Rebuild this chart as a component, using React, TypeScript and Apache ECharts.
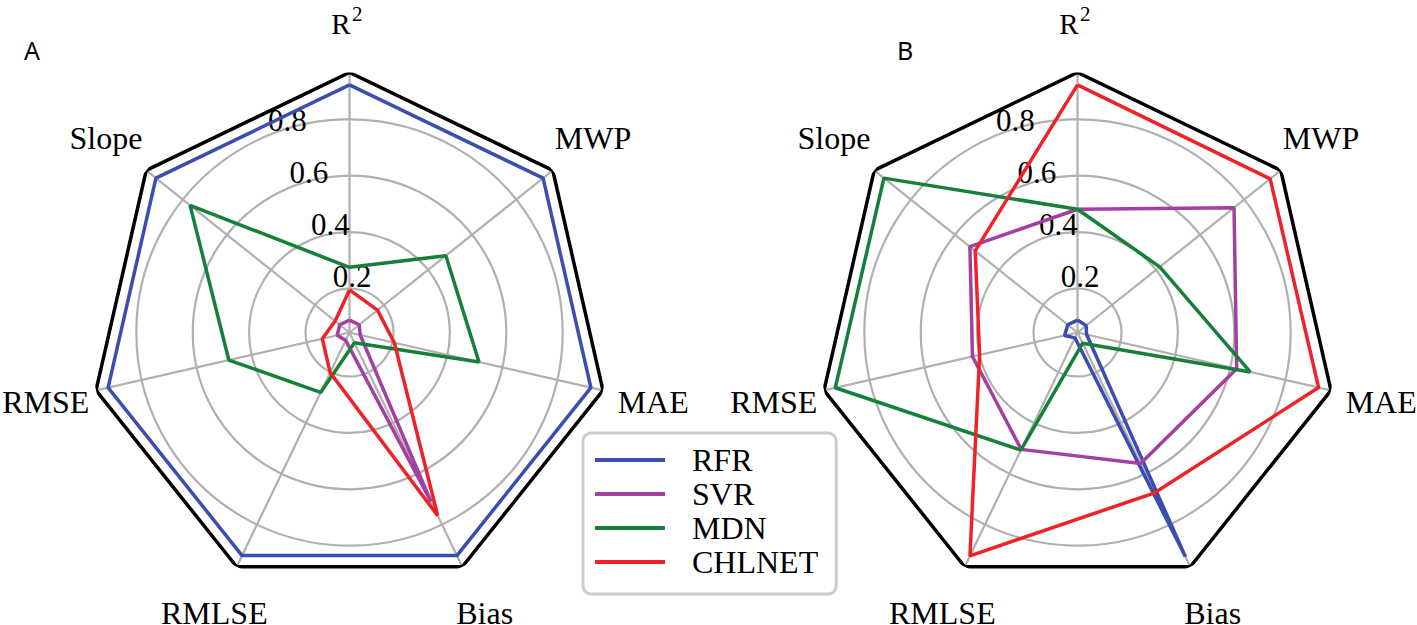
import React, { useEffect, useRef } from 'react';
import * as echarts from 'echarts';

// ---------------- data ----------------
const indicators = ['R²', 'MWP', 'MAE', 'Bias', 'RMLSE', 'RMSE', 'Slope'];
const models = ['RFR', 'SVR', 'MDN', 'CHLNET'];
const modelColors = ['#3B4DAE', '#A23FA0', '#16803B', '#EE2227'];

// Panel A (order: R², MWP, MAE, Bias, RMLSE, RMSE, Slope)
const rfrA = [0.922, 0.922, 0.922, 0.922, 0.922, 0.922, 0.922];
const svrA = [0.088, 0.088, 0.083, 0.709, 0.075, 0.089, 0.088];
const mdnA = [0.275, 0.481, 0.515, 0.084, 0.28, 0.483, 0.767];
const chlnetA = [0.195, 0.171, 0.207, 0.765, 0.202, 0.143, 0.109];

// Panel B
const rfrB = [0.088, 0.083, 0.077, 0.926, 0.065, 0.091, 0.088];
const svrB = [0.481, 0.754, 0.623, 0.56, 0.504, 0.426, 0.532];
const mdnB = [0.481, 0.417, 0.672, 0.086, 0.507, 0.925, 0.922];
const chlnetB = [0.922, 0.918, 0.921, 0.675, 0.923, 0.4, 0.508];

const radialTickLabels = ['0.2', '0.4', '0.6', '0.8'];
const radiusMin = 0.044;
const radiusMax = 0.966;
const outerTick = 0.8;
const panelTags = ['A', 'B'];

// ---------------- layout ----------------
const R = 260;
const CY = 332.5;
const centersX = [349.5, 1077.5];
const labelRadius = 311.5;
const SERIF = '"Liberation Serif", "Times New Roman", serif';
const step = 360 / indicators.length;
// pixel radius of the polar that carries the circles (its max is the outer tick)
const circleR = (R * (outerTick - radiusMin)) / (radiusMax - radiusMin);

const panelData = [
  [rfrA, svrA, mdnA, chlnetA],
  [rfrB, svrB, mdnB, chlnetB],
];

function closed(values: number[]) {
  const pts = values.map((v, i) => [v, i * step]);
  pts.push([values[0], 360]);
  return pts;
}

function buildOption() {
  const polar: any[] = [];
  const angleAxis: any[] = [];
  const radiusAxis: any[] = [];
  const series: any[] = [];
  const graphic: any[] = [];

  centersX.forEach((cx, p) => {
    const dataIdx = p * 2;
    const circIdx = p * 2 + 1;
    polar.push({ center: [cx, CY], radius: R });
    polar.push({ center: [cx, CY], radius: circleR });

    angleAxis.push({
      polarIndex: dataIdx,
      type: 'value',
      min: 0,
      max: 360,
      interval: step,
      startAngle: 90,
      clockwise: true,
      axisLine: { show: false },
      axisTick: { show: false },
      axisLabel: { show: false },
      splitLine: { show: true, lineStyle: { color: '#b0b0b0', width: 2.2 } },
    });
    angleAxis.push({
      polarIndex: circIdx,
      type: 'value',
      min: 0,
      max: 360,
      startAngle: 112.5,
      axisLine: { show: false },
      axisTick: { show: false },
      axisLabel: { show: false },
      splitLine: { show: false },
    });

    radiusAxis.push({
      polarIndex: dataIdx,
      type: 'value',
      min: radiusMin,
      max: radiusMax,
      axisLine: { show: false },
      axisTick: { show: false },
      axisLabel: { show: false },
      splitLine: { show: false },
    });
    radiusAxis.push({
      polarIndex: circIdx,
      type: 'value',
      min: radiusMin,
      max: outerTick,
      z: 0,
      axisLine: { show: false },
      axisTick: { show: false },
      splitLine: { show: true, lineStyle: { color: '#b0b0b0', width: 2.2 } },
      axisLabel: {
        show: true,
        showMinLabel: false,
        showMaxLabel: true,
        margin: 0,
        align: 'left',
        verticalAlign: 'bottom',
        fontFamily: SERIF,
        fontSize: 31,
        color: '#000',
        formatter: (v: number) => {
          const s = String(Math.round(v * 10) / 10);
          return radialTickLabels.includes(s) && Math.abs(v - Number(s)) < 1e-6 ? s : '';
        },
      },
    });

    // outer frame
    series.push({
      type: 'line',
      coordinateSystem: 'polar',
      polarIndex: dataIdx,
      name: 'frame',
      symbol: 'none',
      silent: true,
      z: 3,
      lineStyle: { color: '#000', width: 3.5 },
      data: closed(indicators.map(() => radiusMax)),
    });

    panelData[p].forEach((vals, m) => {
      series.push({
        type: 'line',
        coordinateSystem: 'polar',
        polarIndex: dataIdx,
        name: models[m],
        symbol: 'none',
        z: 4 + m,
        color: modelColors[m],
        itemStyle: { color: modelColors[m] },
        lineStyle: { color: modelColors[m], width: 3.5 },
        data: closed(vals),
      });
    });

    // category names around the polygon
    indicators.forEach((name, i) => {
      const a = ((90 - i * step) * Math.PI) / 180;
      const x = cx + labelRadius * Math.cos(a);
      const y = CY - labelRadius * Math.sin(a);
      if (name === 'R²') {
        // R with a raised superscript 2
        graphic.push({
          type: 'text',
          x: x + 1,
          y: y + 3,
          style: { text: 'R', fontFamily: SERIF, fontSize: 29, fill: '#000', align: 'right', verticalAlign: 'middle' },
        });
        graphic.push({
          type: 'text',
          x: x + 2.5,
          y: y - 7.5,
          style: { text: '2', fontFamily: SERIF, fontSize: 21, fill: '#000', align: 'left', verticalAlign: 'middle' },
        });
      } else {
        graphic.push({
          type: 'text',
          x,
          y,
          style: {
            text: name,
            fontFamily: SERIF,
            fontSize: 32,
            lineHeight: 22,
            fill: '#000',
            align: 'center',
            verticalAlign: 'middle',
          },
        });
      }
    });
  });

  graphic.push({
    type: 'text',
    x: 24,
    y: 50,
    style: { text: panelTags[0], fontFamily: '"Noto Sans", sans-serif', fontSize: 25, fill: '#000', verticalAlign: 'middle' },
  });
  graphic.push({
    type: 'text',
    x: 897,
    y: 50,
    style: { text: panelTags[1], fontFamily: '"Noto Sans", sans-serif', fontSize: 25, fill: '#000', verticalAlign: 'middle' },
  });

  return {
    animation: false,
    backgroundColor: '#fff',
    polar,
    angleAxis,
    radiusAxis,
    series,
    graphic,
    legend: {
      data: models,
      orient: 'vertical',
      left: 583,
      top: 433,
      padding: [10, 18, 15, 12],
      itemGap: 0,
      itemWidth: 70,
      itemHeight: 4,
      icon: 'rect',
      borderColor: '#cccccc',
      borderWidth: 3,
      borderRadius: 8,
      backgroundColor: '#fff',
      z: 10,
      textStyle: {
        fontFamily: SERIF,
        fontSize: 32,
        color: '#000',
        lineHeight: 34,
        padding: [0, 0, 0, 22],
      },
    },
  };
}

export default function App() {
  const ref = useRef<HTMLDivElement>(null);
  useEffect(() => {
    if (!ref.current) return;
    const chart = echarts.init(ref.current, undefined, { renderer: 'svg' });
    chart.setOption(buildOption() as any);
    return () => chart.dispose();
  }, []);
  return (
    <div
      ref={ref}
      style={{ position: 'fixed', left: 0, top: 0, width: 1417, height: 625, background: '#fff' }}
    />
  );
}
